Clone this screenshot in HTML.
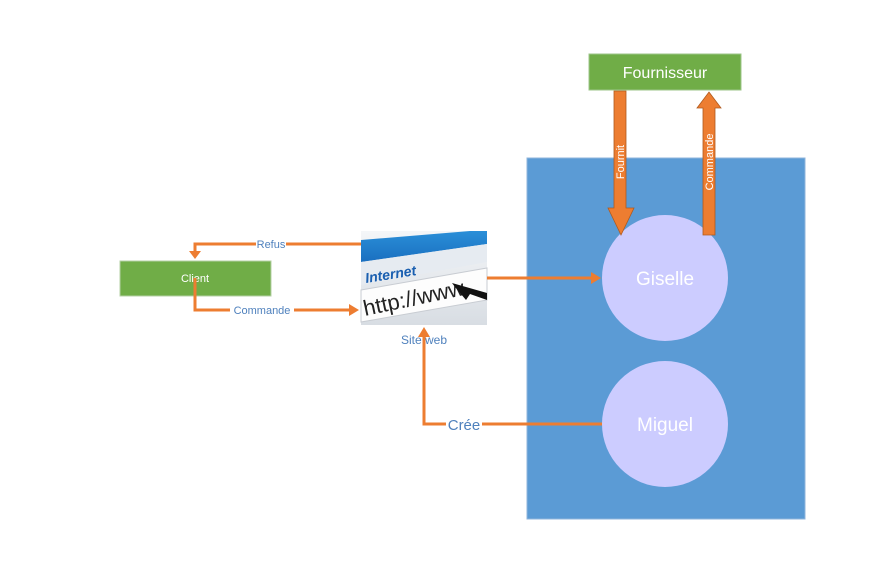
<!DOCTYPE html>
<html><head><meta charset="utf-8"><style>
html,body{margin:0;padding:0;background:#fff;}
svg{display:block;font-family:"Liberation Sans","DejaVu Sans",sans-serif;}
</style></head><body>
<svg width="872" height="582" viewBox="0 0 872 582" xmlns="http://www.w3.org/2000/svg">
<defs>
<linearGradient id="bar" x1="0" y1="0" x2="0" y2="1">
<stop offset="0" stop-color="#2a8fd8"/><stop offset="1" stop-color="#1a6fc0"/></linearGradient>
<linearGradient id="bg" x1="0" y1="0" x2="0" y2="1">
<stop offset="0" stop-color="#f4f6f8"/><stop offset="1" stop-color="#d8dde3"/></linearGradient>
</defs>
<rect width="872" height="582" fill="#fff"/>
<!-- blue container -->
<rect x="527" y="158" width="278" height="361" fill="#5b9bd5" stroke="#8fb4dc" stroke-width="1"/>
<circle cx="665" cy="278" r="63" fill="#ccccff"/>
<circle cx="665" cy="424" r="63" fill="#ccccff"/>
<text x="665" y="285" font-size="19" fill="#fff" text-anchor="middle">Giselle</text>
<text x="665" y="431" font-size="19" fill="#fff" text-anchor="middle">Miguel</text>
<!-- Fournisseur -->
<rect x="589" y="54" width="152" height="36" fill="#70ad47" stroke="#9cc58a" stroke-width="1"/>
<text x="665" y="78" font-size="16" fill="#fff" text-anchor="middle">Fournisseur</text>
<!-- Fournit arrow -->
<polygon points="614,91 626,91 626,208 634,208 621,235 608,208 614,208" fill="#ed7d31" stroke="#b05a1e" stroke-width="0.8"/>
<text transform="translate(624,162) rotate(-90)" font-size="11" fill="#fff" text-anchor="middle">Fournit</text>
<!-- Commande arrow -->
<polygon points="703,235 715,235 715,108 721,108 709,92 697,108 703,108" fill="#ed7d31" stroke="#b05a1e" stroke-width="0.8"/>
<text transform="translate(713,162) rotate(-90)" font-size="11" fill="#fff" text-anchor="middle">Commande</text>
<!-- Client -->
<rect x="120" y="261" width="151" height="35" fill="#70ad47" stroke="#b5d0a6" stroke-width="1"/>
<text x="195" y="282" font-size="11" fill="#fff" text-anchor="middle">Client</text>
<!-- Site image -->
<g>
<rect x="361" y="231" width="126" height="94" fill="url(#bg)"/>
<polygon points="361,240 470,231 487,231 487,244 361,262" fill="url(#bar)"/>
<polygon points="361,262 487,244 487,262 361,285" fill="#e6ebf1"/>
<text x="366" y="283" font-size="14" font-weight="bold" font-style="italic" fill="#1a5fb0" transform="rotate(-9 366 283)">Internet</text>
<polygon points="361,290 487,268 487,300 361,322" fill="#fdfdfd" stroke="#c8ccd2" stroke-width="1"/>
<text x="365" y="316" font-size="22" fill="#222" transform="rotate(-12 365 316)">http://www.</text>
<polygon points="452,283 487,293 487,300 470,294 466,300 455,287" fill="#111"/>
</g>
<text x="424" y="344" font-size="12" fill="#4f81bd" text-anchor="middle">Site web</text>
<!-- connectors -->
<g stroke="#ed7d31" stroke-width="3" fill="none">
<polyline points="361,244 195,244 195,252"/>
<polyline points="195,278 195,310 350,310"/>
<line x1="487" y1="278" x2="592" y2="278"/>
<polyline points="602,424 424,424 424,336"/>
</g>
<g fill="#ed7d31">
<polygon points="189,251 201,251 195,259"/>
<polygon points="349,304 349,316 359,310"/>
<polygon points="591,272 591,284 601,278"/>
<polygon points="418,337 430,337 424,327"/>
</g>
<!-- connector labels -->
<rect x="256" y="238" width="30" height="13" fill="#fff"/>
<text x="271" y="248" font-size="11" fill="#4f81bd" text-anchor="middle">Refus</text>
<rect x="230" y="304" width="64" height="13" fill="#fff"/>
<text x="262" y="314" font-size="11" fill="#4f81bd" text-anchor="middle">Commande</text>
<rect x="446" y="416" width="36" height="17" fill="#fff"/>
<text x="464" y="430" font-size="15" fill="#4f81bd" text-anchor="middle">Crée</text>
</svg>
</body></html>
